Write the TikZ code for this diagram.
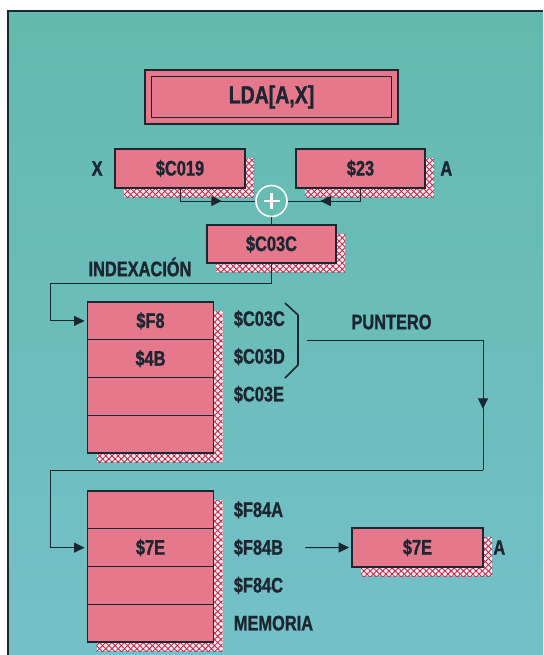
\documentclass[tikz,border=0pt]{standalone}
\usepackage{fontspec}
\setmainfont{Liberation Sans}[FakeStretch=0.78, BoldFeatures={FakeBold=1.2}]
\usepackage{tikz}
\usetikzlibrary{arrows.meta, positioning, patterns.meta, decorations.markings}
\definecolor{seagreen}{RGB}{98,186,172}
\definecolor{seablue}{RGB}{116,192,200}
\definecolor{regpink}{RGB}{230,120,140}
\definecolor{inkdark}{RGB}{28,38,48}
\definecolor{hatchred}{RGB}{200,40,75}

\begin{document}
\begin{tikzpicture}[
        x=0.5pt, y=-0.5pt,
        every node/.style={font=\bfseries\fontsize{10.5}{12}\selectfont, text=inkdark},
        hatchshadow/.style={
          preaction={fill=white!85!regpink, draw=none, transform canvas={shift={(4.5pt,-4.5pt)}}},
          preaction={pattern={Lines[angle=45, distance=2.2pt, line width=0.45pt]}, pattern color=hatchred,
                     draw=none, transform canvas={shift={(4.5pt,-4.5pt)}}},
          preaction={pattern={Lines[angle=-45, distance=2.2pt, line width=0.45pt]}, pattern color=hatchred,
                     draw=none, transform canvas={shift={(4.5pt,-4.5pt)}}}},
        reg/.style={rectangle, draw=inkdark, line width=0.7pt, fill=regpink,
                    inner sep=0pt, outer sep=0pt, minimum height=19.5pt, hatchshadow},
        cell/.style={reg, minimum width=63pt, minimum height=18.875pt},
        lbl/.style={inner sep=0pt},
        wire/.style={draw=inkdark, line width=0.5pt},
        wirearrow/.style={wire, -{Triangle[length=5.2pt, width=5pt]}, shorten >=1.5pt},
        midarrow/.style={wire, postaction={decorate},
                    decoration={markings, mark=at position #1 with {\arrow{Triangle[length=5.2pt, width=5pt]}}}}
      ]
      \useasboundingbox (0,0) rectangle (543,655);
      \fill[white] (0,0) rectangle (543,655);
      \shade[top color=seagreen, bottom color=seablue] (8,11) rectangle (543,655);
      \draw[inkdark, line width=0.8pt] (8,655) -- (8,11) -- (543,11);

      % instruction and registers
      \node[rectangle, draw=inkdark, line width=0.7pt, fill=regpink, minimum width=126.5pt,
            minimum height=27pt, font=\bfseries\fontsize{12.5}{14}\selectfont] (lda) at (271.5,97) {LDA[A,X]};
      \draw[inkdark, line width=0.5pt] ([shift={(7,7)}]lda.north west) rectangle ([shift={(-7,-7)}]lda.south east);

      \node[reg, minimum width=65pt] (regx) at (180,168.5) {\$C019};
      \node[reg, minimum width=64.5pt] (rega) at (360.5,168.5) {\$23};
      \node[lbl, left=6pt of regx] (lx) {X};
      \node[lbl, right=7.5pt of rega] (la) {A};

      \node[circle, draw=white, line width=0.8pt, minimum size=15.5pt, inner sep=0pt] (plus) at (271.5,201) {};
      \draw[white, line width=1.2pt] ([xshift=-4pt]plus.center) -- ([xshift=4pt]plus.center)
                                     ([yshift=-4pt]plus.center) -- ([yshift=4pt]plus.center);

      \node[reg, minimum width=64.5pt, minimum height=19pt] (regsum) at (271.5,244) {\$C03C};
      \node (lindex) at (140,267) {INDEXACIÓN};

      \draw[midarrow=0.62] (regx.south) |- (plus.west);
      \draw[midarrow=0.62] (rega.south) |- (plus.east);
      \draw[wire] (plus.south) -- (regsum.north);

      % pointer table
      \node[cell] (mA1) at (150.5,320.9) {\$F8};
      \node[cell, below=0pt of mA1] (mA2) {\$4B};
      \node[cell, below=0pt of mA2] (mA3) {};
      \node[cell, below=0pt of mA3] (mA4) {};
      \foreach \i/\addr in {1/C03C, 2/C03D, 3/C03E}
        \node[lbl, right=10pt of mA\i, yshift=1pt] (lA\i) {\$\addr};

      \coordinate (ic) at (50,283);
      \draw[wirearrow] (regsum.south) |- (ic) |- (mA1.west);

      \draw[inkdark, line width=0.8pt] (285,303) -- (298,315) -- (298,365) -- (285,378);
      \node (lptr) at (391.5,322) {PUNTERO};

      % memory
      \node[cell] (mB1) at (150.5,509.9) {};
      \node[cell, below=0pt of mB1] (mB2) {\$7E};
      \node[cell, below=0pt of mB2] (mB3) {};
      \node[cell, below=0pt of mB3] (mB4) {};
      \foreach \i/\addr in {1/\$F84A, 2/\$F84B, 3/\$F84C, 4/MEMORIA}
        \node[lbl, right=10pt of mB\i] (lB\i) {\addr};

      \coordinate (ptr) at (307,340);
      \coordinate (pc) at (483,470);
      \coordinate (lc) at (50,470);
      \draw[midarrow=0.8] (ptr) -| (pc);
      \draw[wirearrow] (pc) -- (lc) |- (mB2.west);

      \node[reg, minimum width=65.5pt] (regres) at (417.5,547.5) {\$7E};
      \node[lbl, right=5pt of regres] (lres) {A};
      \draw[wirearrow] ([xshift=11pt]lB2.east) -- (regres.west);
    \end{tikzpicture}
\end{document}
